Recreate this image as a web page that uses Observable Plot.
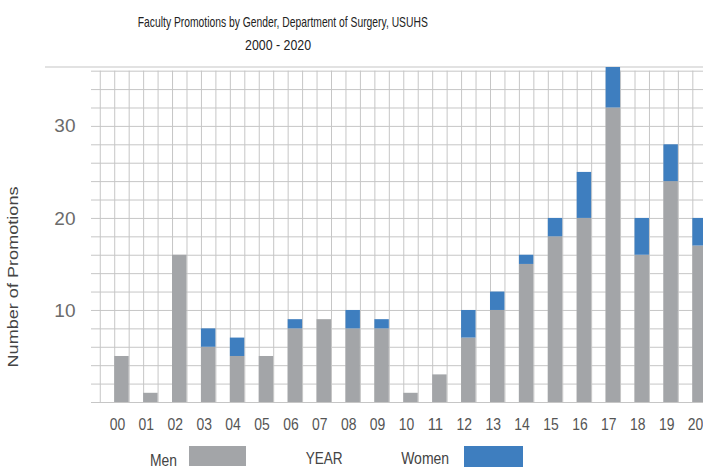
<!DOCTYPE html>
<html>
<head>
<meta charset="utf-8">
<script src="https://cdn.jsdelivr.net/npm/d3@7"></script>
<script src="https://cdn.jsdelivr.net/npm/@observablehq/plot@0.6"></script>
<style>
  html, body { margin: 0; padding: 0; background: #fff; overflow: hidden; }
  #wrap { position: relative; width: 703px; height: 474px; overflow: hidden; }
  .abs { position: absolute; white-space: nowrap; }
  .fit { transform-origin: 0 50%; }
  .ttl { font-family: "Liberation Sans", Arial, sans-serif; font-size: 15px; line-height: 18px; color: #222; }
  #topline { left: 45px; top: 66px; width: 658px; height: 0; border-top: 2px solid #e2e2e2; }
  #chart { left: 0; top: 60px; }
  #ytitle { font-family: "Liberation Sans", Arial, sans-serif; font-size: 14px; line-height: 16px; color: #444; }
  .leg { font-family: "Liberation Sans", Arial, sans-serif; font-size: 17px; color: #444; top: 451px; line-height: 20px; }
  .sw { top: 446px; height: 20px; }
</style>
</head>
<body>
<div id="wrap">
  <div class="abs ttl fit" data-w="290" data-cx="283" data-cy="22">Faculty Promotions by Gender, Department of Surgery, USUHS</div>
  <div class="abs ttl fit" data-w="66" data-cx="278" data-cy="45">2000 - 2020</div>
  <div id="topline" class="abs"></div>
  <div id="chart" class="abs"></div>
  <div id="ytitle" class="abs" data-len="181">Number of Promotions</div>
  <div class="abs leg fit" data-w="27" data-cx="163.5" data-cy="461">Men</div>
  <div class="abs sw" style="left:189px;width:57px;background:#a3a5a8"></div>
  <div class="abs leg fit" data-w="37" data-cx="324" data-cy="459">YEAR</div>
  <div class="abs leg fit" data-w="48" data-cx="425" data-cy="459">Women</div>
  <div class="abs sw" style="left:464px;width:59px;height:21px;background:#3e7ebf"></div>
</div>
<script>
const years = ["00","01","02","03","04","05","06","07","08","09","10","11","12","13","14","15","16","17","18","19","20"];
const men   = [5, 1, 16, 6, 5, 5, 8, 9, 8, 8, 1, 3, 7, 10, 15, 18, 20, 32, 16, 24, 17];
const women = [0, 0, 0, 2, 2, 0, 1, 0, 2, 1, 0, 0, 3, 2, 1, 2, 5, 5, 4, 4, 3];
const genders = ["Men", "Women"];
const yTicks = [10, 20, 30];
const gridY = d3.range(0, 37, 2);

const rows = years.flatMap((y, i) => [
  {year: y, gender: "Men", n: men[i]},
  {year: y, gender: "Women", n: women[i]}
]);

const step = (714 - 107) / 21;
const q = step / 4;
const grid = {stroke: "#c6c6c6", strokeOpacity: 1, strokeWidth: 1};

const chart = Plot.plot({
  width: 703,
  height: 380,
  marginTop: 7,
  marginBottom: 38,
  marginLeft: 91,
  marginRight: 0,
  style: {background: "transparent", overflow: "hidden"},
  x: {type: "band", domain: years, range: [107, 714], paddingInner: 0.5, paddingOuter: 0.25, round: false, label: null},
  y: {domain: [0, 36.4], label: null},
  color: {domain: genders, range: ["#a3a5a8", "#3e7ebf"]},
  marks: [
    Plot.ruleY(gridY, grid),
    Plot.ruleX(years, {x: d => d, y1: 0, y2: 36, dx: -q, ...grid}),
    Plot.ruleX(years, {x: d => d, y1: 0, y2: 36, dx: q, ...grid}),
    Plot.ruleX(years.slice(0, 1), {x: d => d, y1: 0, y2: 36, dx: -3 * q, ...grid}),
    Plot.barY(rows, {x: "year", y: "n", fill: "gender", clip: true}),
    Plot.axisX({tickSize: 0, tickPadding: 15, dx: -4.5, fontSize: 17, fill: "#555", fontFamily: "Liberation Sans, Arial, sans-serif", label: null}),
    Plot.axisY(yTicks, {tickSize: 0, tickPadding: 16, fontSize: 19, fill: "#6b6b6b", fontFamily: "Liberation Sans, Arial, sans-serif", label: null})
  ]
});
document.getElementById("chart").appendChild(chart);

// condensed look for the x tick labels
chart.querySelectorAll('g[aria-label="x-axis tick label"] text').forEach(t => {
  t.setAttribute("textLength", 15.5);
  t.setAttribute("lengthAdjust", "spacingAndGlyphs");
});

// fit HTML texts to the reference's widths (condensed typeface look)
document.querySelectorAll(".fit").forEach(el => {
  const w = el.getBoundingClientRect().width;
  const h = el.getBoundingClientRect().height;
  const s = +el.dataset.w / w;
  el.style.left = (+el.dataset.cx - w / 2) + "px";
  el.style.top = (+el.dataset.cy - h / 2) + "px";
  el.style.transformOrigin = "50% 50%";
  el.style.transform = `scaleX(${s})`;
});
const yt = document.getElementById("ytitle");
{
  const w = yt.getBoundingClientRect().width, h = yt.getBoundingClientRect().height;
  const s = +yt.dataset.len / w;
  yt.style.left = (13 - w / 2) + "px";
  yt.style.top = (277 - h / 2) + "px";
  yt.style.transformOrigin = "50% 50%";
  yt.style.transform = `rotate(-90deg) scaleX(${s})`;
}
</script>
</body>
</html>
